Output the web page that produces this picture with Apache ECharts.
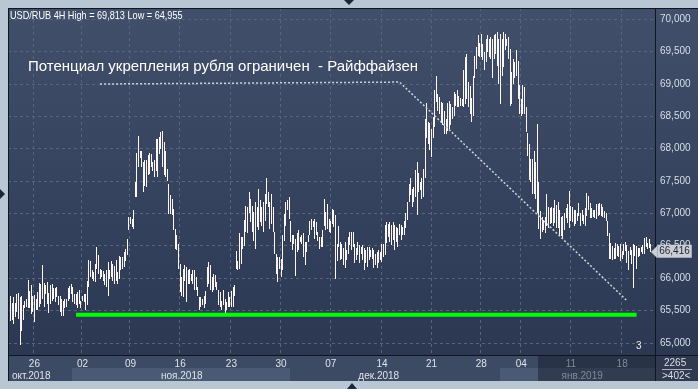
<!DOCTYPE html>
<html>
<head>
<meta charset="utf-8">
<script src="https://cdn.jsdelivr.net/npm/echarts@6/dist/echarts.min.js"></script>
<style>
html,body{margin:0;padding:0;background:#b9c6d4;}
#chart{width:698px;height:389px;}
</style>
</head>
<body>
<div id="chart"></div>
<script>
// ---- data (USD/RUB, 4H bars, low / high) ----
const lows = [
65.26,65.33,65.35,65.29,65.40,65.47,65.37,64.96,65.18,65.35,
65.53,65.55,65.53,65.53,65.45,65.47,65.32,65.50,65.50,65.55,
65.60,65.68,65.55,65.76,65.60,65.46,65.60,65.65,65.68,65.63,
65.71,65.58,65.47,65.42,65.42,65.53,65.55,65.65,65.68,65.76,
65.63,65.60,65.58,65.53,65.60,65.53,65.65,65.63,65.50,65.58,
65.86,66.02,65.99,65.96,65.94,66.14,66.07,65.99,66.02,65.96,
65.89,65.86,65.73,65.99,66.02,65.96,65.91,65.96,65.91,65.99,
66.12,66.14,66.17,66.27,66.35,66.74,66.84,66.79,66.76,67.25,
67.25,67.72,67.85,67.72,67.33,67.43,67.41,67.59,67.61,67.72,
67.66,67.56,67.66,67.56,67.92,68.00,67.72,67.59,67.56,67.50,
66.99,66.99,66.97,66.74,66.45,66.43,66.14,65.78,65.73,65.71,
65.96,65.63,65.91,65.91,65.96,65.91,65.81,65.81,65.73,65.50,
65.55,65.58,65.53,65.60,65.86,65.91,65.81,65.78,65.81,65.86,
65.81,65.58,65.55,65.50,65.58,65.46,65.50,65.55,65.55,
65.55,65.55,65.73,66.14,66.12,66.14,66.22,66.45,66.50,66.71,
66.69,67.00,66.87,66.71,66.58,66.45,66.79,66.74,66.87,66.81,
66.71,66.89,67.15,67.10,66.76,66.84,66.71,66.38,66.07,65.94,
66.14,66.02,66.12,66.58,66.81,67.05,66.92,66.56,66.43,66.53,
66.03,66.40,66.43,66.56,66.53,66.32,66.20,66.40,66.56,66.66,
66.74,66.79,66.61,66.66,66.58,66.45,66.48,66.48,66.81,66.74,
66.76,66.71,66.69,66.84,66.79,65.99,66.27,66.48,
66.28,66.30,66.20,66.15,66.28,66.38,66.51,66.43,66.48,66.23,
66.28,66.35,66.23,66.38,66.28,66.12,66.23,66.17,66.28,66.33,
66.30,66.15,66.20,66.15,66.23,66.28,66.25,66.33,66.35,66.54,
66.64,66.56,66.51,66.59,66.43,66.56,66.48,66.66,66.59,66.66,
66.66,66.77,66.90,67.18,67.28,67.10,67.18,67.25,66.97,67.33,
67.36,67.23,67.26,67.54,68.16,68.08,67.98,67.87,68.16,68.34,
68.72,68.59,68.54,68.39,68.36,68.23,68.23,
68.28,68.30,68.36,68.46,68.51,68.66,68.64,68.64,68.66,68.66,
68.64,68.69,68.77,68.64,68.54,68.41,68.51,69.10,69.23,69.44,
69.41,69.41,69.37,69.21,69.34,69.49,69.42,69.39,69.10,69.39,
69.46,69.28,69.00,68.69,69.13,69.26,69.52,69.59,69.39,68.66,
68.69,69.00,69.10,69.13,68.77,68.54,68.51,68.54,68.54,68.26,
67.89,67.51,67.48,67.30,67.30,67.23,67.00,66.76,66.60,66.72,
66.75,66.70,66.81,66.77,66.83,66.85,66.81,66.85,66.78,
66.78,66.65,66.65,66.60,66.74,66.93,66.85,66.78,66.88,66.86,
66.81,66.83,66.88,66.96,66.80,66.88,66.83,66.80,66.96,67.06,
66.93,66.93,66.95,66.93,66.91,66.96,66.98,66.96,66.95,66.93,
66.88,66.65,66.29,66.29,66.28,66.29,66.29,66.34,66.33,66.26,
66.29,66.35,66.42,66.24,66.13,66.35,66.22,65.85,66.34,66.14,
66.32,66.34,66.40,66.38,66.37,66.48,66.45,66.47,66.41
];
const highs = [
65.40,65.72,65.61,65.71,65.61,65.76,65.77,65.71,65.73,65.58,
65.65,65.68,65.97,65.80,65.89,65.73,65.74,65.68,65.78,65.93,
65.91,66.20,65.93,65.89,65.94,65.77,65.89,65.91,65.84,65.84,
65.86,65.73,65.73,65.68,65.65,65.68,65.68,65.85,65.88,65.91,
65.86,65.76,65.75,65.78,65.81,65.65,65.73,65.76,65.76,65.96,
66.28,66.27,66.12,66.09,66.22,66.48,66.35,66.14,66.12,66.11,
66.07,66.12,66.25,66.12,66.27,66.22,66.18,66.28,66.09,66.34,
66.33,66.32,66.40,66.45,66.61,66.94,66.95,66.92,67.06,67.48,
67.94,68.19,67.97,67.96,67.79,67.83,67.82,67.90,67.94,67.92,
67.79,67.82,68.15,68.15,68.18,68.26,68.27,68.10,67.97,67.69,
67.46,67.28,67.23,67.07,66.76,66.66,66.53,66.22,66.02,66.14,
66.20,66.17,66.12,66.14,66.07,66.12,66.12,66.02,65.86,65.71,
65.71,65.68,65.73,65.80,66.17,66.25,66.20,66.02,66.07,66.04,
65.94,65.81,65.78,65.65,65.81,65.68,65.63,65.78,65.71,
65.80,65.86,65.89,66.42,66.27,66.69,66.63,66.63,66.90,67.12,
67.10,67.33,67.23,67.12,67.02,67.18,67.10,67.38,67.20,67.10,
67.18,67.30,67.54,67.33,67.18,67.30,67.10,66.71,66.38,66.32,
66.32,66.30,66.66,66.99,67.18,67.20,67.25,66.89,66.66,66.66,
66.61,66.69,66.74,66.63,66.66,66.69,66.56,66.56,66.66,66.89,
66.92,66.89,66.92,66.87,66.71,66.63,66.63,66.74,67.23,67.02,
67.15,66.92,66.89,67.07,67.05,66.97,66.53,66.81,
66.56,66.53,66.46,66.56,66.43,66.64,66.71,66.71,66.71,66.53,
66.46,66.56,66.51,66.48,66.51,66.46,66.43,66.48,66.48,66.43,
66.46,66.43,66.38,66.41,66.43,66.41,66.53,66.53,66.82,66.87,
66.84,66.87,66.82,66.87,66.82,66.79,66.77,66.84,66.82,66.79,
66.89,67.00,67.18,67.46,67.54,67.38,67.41,67.67,67.80,67.62,
67.49,67.54,67.69,68.46,68.70,68.41,68.39,68.31,68.49,68.90,
69.13,68.85,68.80,68.72,68.70,68.59,68.46,
68.70,68.74,68.69,68.64,68.87,68.85,68.90,68.82,68.79,68.77,
69.21,69.41,69.46,69.03,68.97,68.79,69.13,69.44,69.57,69.75,
69.64,69.77,69.62,69.49,69.70,69.75,69.70,69.72,69.70,69.75,
69.78,69.80,69.70,69.78,69.70,69.81,69.78,69.70,69.73,69.54,
69.18,69.39,69.34,69.52,69.36,68.98,68.77,68.98,68.95,68.65,
68.25,68.07,67.84,67.84,67.97,67.79,68.38,67.48,67.04,66.95,
66.90,66.95,67.30,67.10,67.08,67.10,67.08,67.20,67.13,
67.17,67.06,66.94,66.96,67.00,67.09,67.14,67.35,67.12,67.10,
67.06,67.06,67.01,67.16,67.01,67.06,66.98,67.09,67.31,67.27,
67.16,67.09,67.06,67.06,67.14,67.14,67.16,67.14,67.10,67.04,
67.01,66.88,66.70,66.54,66.49,66.47,66.55,66.52,66.50,66.52,
66.42,66.52,66.56,66.51,66.42,66.48,66.43,66.52,66.51,66.49,
66.47,66.47,66.48,66.51,66.62,66.63,66.55,66.60,66.53
];
const barCount = 404;                       // category slots on the time axis
const dayLabels = ['26','02','09','16','23','30','07','14','21','28','04','11','18'];
const dayIdx    = [16,46,76,107,139,170,201,233,264,295,320,351,383];
const monthLabels = ['окт.2018','ноя.2018','дек.2018','янв.2019'];
const monthIdx    = [14,108,231,358];
const greyFromIdx = 331;
const supportLevel = 65.435;                // green support line
const supportFrom = 42, supportTo = 392;
const trendIdx   = [57, 244, 386];          // dotted annotation line
const trendPrice = [69.00, 69.03, 65.65];
const lastPrice = 66.416;
const lastIdx = 401;

const cats = Array.from({length: barCount}, (_, i) => String(i));
const bars = lows.map((lo, i) => [i, lo, highs[i]]);

const chart = echarts.init(document.getElementById('chart'), null, {renderer: 'canvas'});
const FONT = 'Liberation Sans, Arial, sans-serif';

const plotGrad = new echarts.graphic.LinearGradient(0, 0, 0, 1, [
  {offset: 0, color: '#414f6b'}, {offset: 1, color: '#2c3852'}
]);

function dayFmt(v, i) {
  const k = dayIdx.indexOf(Number(i));
  if (k < 0) return '';
  const t = dayLabels[k];
  return Number(i) >= greyFromIdx ? '{g|' + t + '}' : t;
}
function monthFmt(v, i) {
  const k = monthIdx.indexOf(Number(i));
  if (k < 0) return '';
  const t = monthLabels[k];
  return Number(i) >= greyFromIdx ? '{g|' + t + '}' : t;
}

const option = {
  animation: false,
  backgroundColor: '#b9c6d4',
  textStyle: {fontFamily: FONT},
  grid: {left: 8, right: 43, top: 8, bottom: 34, containLabel: false},
  graphic: [
    {type: 'rect', z: -100, shape: {x: 8, y: 8, width: 690, height: 347}, style: {fill: plotGrad}},
    {type: 'rect', z: -100, shape: {x: 8, y: 355, width: 690, height: 26}, style: {fill: '#3c4a63'}},
    {type: 'rect', z: -99, shape: {x: 72, y: 368, width: 218, height: 13}, style: {fill: '#4b5a74'}},
    {type: 'rect', z: -99, shape: {x: 500, y: 368, width: 155, height: 13}, style: {fill: '#4b5a74'}},
    {type: 'rect', z: -98, shape: {x: 538, y: 355, width: 117, height: 26}, style: {fill: 'rgba(18,25,38,0.45)'}},
    {type: 'rect', z: -98, shape: {x: 655, y: 355, width: 43, height: 26}, style: {fill: '#2f3a50'}},
    {type: 'line', z: 50, shape: {x1: 8.5, y1: 8, x2: 8.5, y2: 381}, style: {stroke: '#10161f', lineWidth: 1}},
    {type: 'line', z: 50, shape: {x1: 8, y1: 8.5, x2: 698, y2: 8.5}, style: {stroke: '#10161f', lineWidth: 1}},
    {type: 'line', z: 50, shape: {x1: 655.5, y1: 8, x2: 655.5, y2: 381}, style: {stroke: '#10161f', lineWidth: 1}},
    {type: 'line', z: 50, shape: {x1: 8, y1: 355.5, x2: 698, y2: 355.5}, style: {stroke: '#10161f', lineWidth: 1}},
    {type: 'polygon', z: 50, shape: {points: [[344, 0], [354, 0], [349, 5]]}, style: {fill: '#1d2636'}},
    {type: 'polygon', z: 50, shape: {points: [[347, 389], [357, 389], [352, 383]]}, style: {fill: '#1d2636'}},
    {type: 'polygon', z: 50, shape: {points: [[0, 189], [0, 199], [5, 194]]}, style: {fill: '#1d2636'}},
    {type: 'text', z: 60, x: 10, y: 10, scaleX: 0.83, style: {text: 'USD/RUB 4H High = 69,813 Low = 64,955', fill: '#ffffff', font: '11px ' + FONT}},
    {type: 'text', z: 60, x: 28, y: 59, style: {text: 'Потенциал укрепления рубля ограничен  - Райффайзен', fill: '#ffffff', font: '15px ' + FONT}},
    {type: 'text', z: 60, x: 636, y: 341, style: {text: '3', fill: '#e6e9ee', font: '10px ' + FONT}},
    {type: 'text', z: 60, x: 664, y: 358, style: {text: '2265', fill: '#d9dee6', font: '10px ' + FONT}},
    {type: 'line', z: 60, shape: {x1: 662, y1: 369.5, x2: 692, y2: 369.5}, style: {stroke: '#aab3c0', lineWidth: 1}},
    {type: 'text', z: 60, x: 662, y: 371, style: {text: '>402<', fill: '#d9dee6', font: '10px ' + FONT}},
    {type: 'polygon', z: 60, shape: {points: [[651, 252], [657, 246], [657, 258]]}, style: {fill: '#c9cdd4'}}
  ],
  xAxis: [{
    type: 'category', data: cats, boundaryGap: true,
    axisLine: {show: false}, axisTick: {show: false},
    axisLabel: {interval: (i) => dayIdx.includes(i), formatter: dayFmt, color: '#dfe3ea', fontSize: 10, margin: 4,
      rich: {g: {color: '#7f8a9c', fontSize: 10}}},
    splitLine: {show: true, interval: (i) => dayIdx.includes(i), lineStyle: {type: [3, 3], color: '#56647e', width: 1}}
  }, {
    type: 'category', data: cats, boundaryGap: true, position: 'bottom', offset: 12,
    axisLine: {show: false}, axisTick: {show: false},
    axisLabel: {interval: (i) => monthIdx.includes(i), formatter: monthFmt, color: '#dfe3ea', fontSize: 10, margin: 4,
      rich: {g: {color: '#7f8a9c', fontSize: 10}}},
    splitLine: {show: false}
  }],
  yAxis: {
    type: 'value', position: 'right', min: 64.811, max: 70.175, splitNumber: 10,
    axisLine: {show: false}, axisTick: {show: false},
    axisLabel: {color: '#d9dee6', fontSize: 10, margin: 5, showMinLabel: false, showMaxLabel: false,
      formatter: (v) => v.toFixed(3).replace('.', ',')},
    splitLine: {show: true, lineStyle: {type: [3, 3], color: '#56647e', width: 1}}
  },
  series: [{
    type: 'custom', name: 'USD/RUB', data: bars, encode: {x: 0, y: [1, 2]},
    renderItem: function (params, api) {
      const x = api.value(0);
      const pLo = api.coord([x, api.value(1)]);
      const pHi = api.coord([x, api.value(2)]);
      const px = Math.round(pLo[0] - 0.5);
      const y1 = Math.round(pHi[1]);
      const y2 = Math.round(pLo[1]);
      return {type: 'rect', shape: {x: px, y: y1, width: 1, height: Math.max(1, y2 - y1)}, style: {fill: '#fdf6f1'}};
    },
    z: 3
  }, {
    type: 'line', name: 'support', data: [[supportFrom, supportLevel], [supportTo, supportLevel]],
    symbol: 'none', silent: true, lineStyle: {color: '#00ff00', width: 4}, z: 4
  }, {
    type: 'line', name: 'trend', data: trendIdx.map((v, k) => [v, trendPrice[k]]),
    symbol: 'none', silent: true, lineStyle: {color: '#cfd4da', width: 1.5, type: [2, 2]}, z: 4
  }, {
    type: 'line', name: 'last', data: [[lastIdx, lastPrice], [barCount - 1, lastPrice]],
    symbol: 'none', silent: true, lineStyle: {opacity: 0},
    endLabel: {show: true, formatter: () => lastPrice.toFixed(3).replace('.', ','), distance: 3,
      backgroundColor: '#c9cdd4', color: '#1c2535', fontSize: 10, padding: [2, 2, 1, 2], borderColor: '#8d949e', borderWidth: 0},
    z: 5
  }]
};
chart.setOption(option);
</script>
</body>
</html>
